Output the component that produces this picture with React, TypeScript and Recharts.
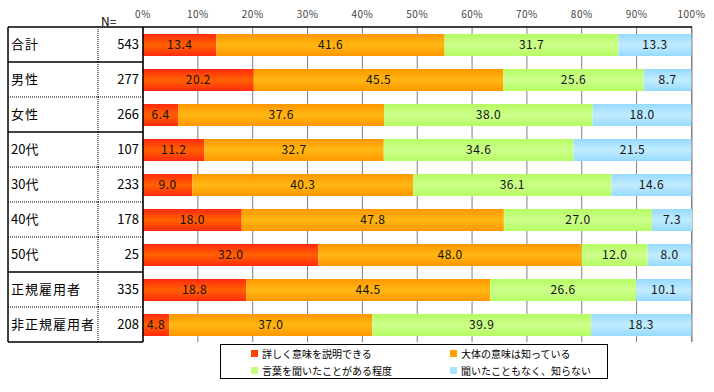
import { Bar, BarChart, CartesianGrid, LabelList, XAxis, YAxis } from "recharts";

const groups = ["合計", "男性", "女性", "20代", "30代", "40代", "50代", "正規雇用者", "非正規雇用者"];
const counts = [543, 277, 266, 107, 233, 178, 25, 335, 208];
// solid border under these rows, dotted under the rest
const solidAfter = [true, false, true, false, false, false, true, false, true];

const detail = [13.4, 20.2, 6.4, 11.2, 9.0, 18.0, 32.0, 18.8, 4.8];
const general = [41.6, 45.5, 37.6, 32.7, 40.3, 47.8, 48.0, 44.5, 37.0];
const heard = [31.7, 25.6, 38.0, 34.6, 36.1, 27.0, 12.0, 26.6, 39.9];
const never = [13.3, 8.7, 18.0, 21.5, 14.6, 7.3, 8.0, 10.1, 18.3];

const pctTicks = [0, 10, 20, 30, 40, 50, 60, 70, 80, 90, 100];

const series = [
  { key: "detail", name: "詳しく意味を説明できる", edge: "#ff2a10", mid: "#ff6200", swatch: "#ff4400" },
  { key: "general", name: "大体の意味は知っている", edge: "#ff9600", mid: "#ffb814", swatch: "#ffa000" },
  { key: "heard", name: "言葉を聞いたことがある程度", edge: "#b6fc62", mid: "#ccff8c", swatch: "#c4ff78" },
  { key: "never", name: "聞いたこともなく、知らない", edge: "#96daff", mid: "#c2ecff", swatch: "#aee2ff" },
];

const data = groups.map((g, i) => ({
  group: g,
  n: counts[i],
  detail: detail[i],
  general: general[i],
  heard: heard[i],
  never: never[i],
}));

const FONT = "'Noto Sans CJK JP', 'Noto Sans', sans-serif";
const TOP = 27;
const BOTTOM = 50;
const HEIGHT = 392;
const ROW = (HEIGHT - TOP - BOTTOM) / groups.length;
const TABLE_LEFT = 8;
const N_COL = 98;
const PLOT_LEFT = 143;

const TableTick = (props: any) => {
  const { y, index } = props;
  const top = y - ROW / 2;
  const bottom = y + ROW / 2;
  const label = groups[index];
  const isDigit = /^\d/.test(label);
  return (
    <g>
      {index === 0 && (
        <line x1={TABLE_LEFT} x2={PLOT_LEFT} y1={top} y2={top} stroke="#000" strokeWidth={1.5} />
      )}
      <line x1={TABLE_LEFT} x2={TABLE_LEFT} y1={top} y2={bottom} stroke="#000" strokeWidth={1.5} />
      <line x1={N_COL} x2={N_COL} y1={top} y2={bottom} stroke="#000" strokeDasharray="1 1" />
      <line
        x1={TABLE_LEFT}
        x2={PLOT_LEFT}
        y1={bottom}
        y2={bottom}
        stroke="#000"
        strokeWidth={solidAfter[index] ? 1.5 : 1}
        strokeDasharray={solidAfter[index] ? undefined : "1 1"}
      />
      <text
        x={11}
        y={y}
        dy="0.36em"
        fontSize={13}
        letterSpacing={isDigit ? 0 : 1}
        fill="#000"
        fontFamily={FONT}
      >
        {label}
      </text>
      <text x={139} y={y} dy="0.36em" fontSize={13} textAnchor="end" fill="#000" fontFamily={FONT}>
        {counts[index]}
      </text>
    </g>
  );
};

const App = () => (
  <div style={{ position: "absolute", left: 0, top: 0, width: 714, height: HEIGHT, background: "#fff", fontFamily: FONT }}>
    <BarChart
      width={714}
      height={HEIGHT}
      data={data}
      layout="vertical"
      barSize={22}
      margin={{ top: 0, right: 22, bottom: BOTTOM, left: TABLE_LEFT }}
    >
      <defs>
        {series.map((s) => (
          <linearGradient key={s.key} id={`grad-${s.key}`} x1="0" y1="0" x2="0" y2="1">
            <stop offset="0%" stopColor={s.edge} />
            <stop offset="50%" stopColor={s.mid} />
            <stop offset="100%" stopColor={s.edge} />
          </linearGradient>
        ))}
      </defs>
      <CartesianGrid horizontal={false} stroke="#808080" />
      <XAxis
        type="number"
        orientation="top"
        domain={[0, 100]}
        ticks={pctTicks}
        tickFormatter={(v: number) => `${v}%`}
        height={TOP}
        tickLine={false}
        tickMargin={3}
        axisLine={{ stroke: "#000", strokeWidth: 1.5 }}
        tick={{ fontSize: 10, fill: "#444", fontFamily: FONT, letterSpacing: 0.5 }}
        interval={0}
      />
      <YAxis
        type="category"
        dataKey="group"
        width={PLOT_LEFT - TABLE_LEFT}
        tickLine={false}
        axisLine={{ stroke: "#000", strokeWidth: 1.5 }}
        tick={<TableTick />}
        interval={0}
      />
      {series.map((s) => (
        <Bar key={s.key} dataKey={s.key} stackId="a" fill={`url(#grad-${s.key})`} isAnimationActive={false}>
          <LabelList
            dataKey={s.key}
            position="center"
            formatter={(v: number) => v.toFixed(1)}
            style={{ fontSize: 12, fill: "#111", fontFamily: FONT, letterSpacing: 0.5 }}
          />
        </Bar>
      ))}
    </BarChart>
    <div style={{ position: "absolute", left: 101, top: 12, fontSize: 12, color: "#000" }}>N=</div>
    <div
      style={{
        position: "absolute",
        left: 220,
        top: 344,
        width: 388,
        height: 35,
        border: "1.5px solid #000",
        display: "grid",
        gridTemplateColumns: "199px 180px",
        gridTemplateRows: "17px 17px",
        paddingLeft: 30,
        boxSizing: "border-box",
        alignContent: "center",
      }}
    >
      {series.map((s) => (
        <div key={s.key} style={{ display: "flex", alignItems: "center", fontSize: 10, color: "#000" }}>
          <span style={{ display: "inline-block", width: 7, height: 7, background: s.swatch, marginRight: 4 }} />
          {s.name}
        </div>
      ))}
    </div>
  </div>
);

export default App;
